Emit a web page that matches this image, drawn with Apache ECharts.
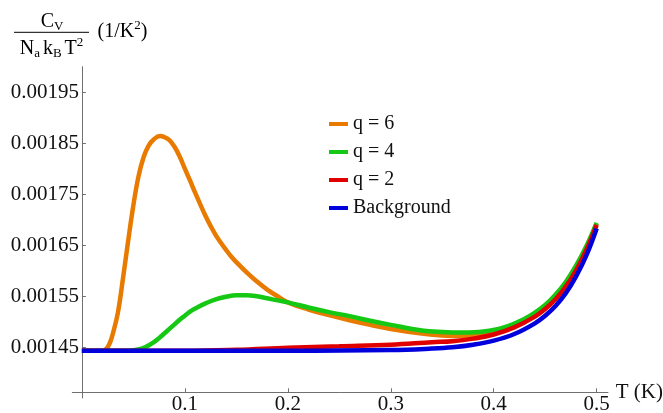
<!DOCTYPE html>
<html>
<head>
<meta charset="utf-8">
<script src="https://cdn.jsdelivr.net/npm/echarts@6/dist/echarts.min.js"></script>
<style>
html,body{margin:0;padding:0;background:#fff;}
#chart{width:663px;height:413px;}
</style>
</head>
<body>
<div id="chart"></div>
<script>
// ---- data ----
const seriesNames = ['q = 6', 'q = 4', 'q = 2', 'Background'];
const seriesColors = ['#E87A00', '#14C814', '#E00000', '#0000DC'];

const T_q6 = [0, 0.02, 0.0225, 0.025, 0.0275, 0.03, 0.035, 0.04, 0.045, 0.05, 0.055, 0.06, 0.065, 0.07, 0.076, 0.08, 0.085, 0.09, 0.095, 0.10, 0.105, 0.11, 0.115, 0.12, 0.125, 0.13, 0.135, 0.14, 0.145, 0.15, 0.16, 0.17, 0.18, 0.19, 0.20, 0.22, 0.24, 0.26, 0.28, 0.30, 0.33, 0.35, 0.37, 0.39, 0.41, 0.43, 0.44, 0.45, 0.46, 0.47, 0.48, 0.49, 0.50];
const C_q6 = [0.001443, 0.001443, 0.001445, 0.00145, 0.00146, 0.001476, 0.001518, 0.001586, 0.001659, 0.001728, 0.001785, 0.001823, 0.001846, 0.001858, 0.001864, 0.001862, 0.001856, 0.001843, 0.001824, 0.0018, 0.001777, 0.001753, 0.00173, 0.001708, 0.001688, 0.00167, 0.001655, 0.001641, 0.001628, 0.001617, 0.001597, 0.001579, 0.001563, 0.00155, 0.001538, 0.001524, 0.001513, 0.001503, 0.001494, 0.001486, 0.001477, 0.001473, 0.001472, 0.001475, 0.001485, 0.001504, 0.001517, 0.001532, 0.001552, 0.001577, 0.001609, 0.001647, 0.001693];

const T_q4 = [0, 0.04, 0.05, 0.055, 0.06, 0.065, 0.07, 0.075, 0.08, 0.085, 0.09, 0.095, 0.10, 0.105, 0.11, 0.12, 0.13, 0.14, 0.15, 0.16, 0.17, 0.18, 0.19, 0.20, 0.22, 0.24, 0.26, 0.28, 0.30, 0.33, 0.35, 0.37, 0.39, 0.41, 0.43, 0.44, 0.45, 0.46, 0.47, 0.48, 0.49, 0.50];
const C_q4 = [0.001443, 0.001443, 0.001444, 0.001446, 0.001449, 0.001454, 0.00146, 0.001468, 0.001477, 0.001486, 0.001495, 0.001504, 0.001512, 0.00152, 0.001526, 0.001536, 0.001544, 0.001549, 0.001552, 0.001552, 0.00155, 0.001546, 0.001542, 0.001538, 0.001528, 0.001519, 0.001511, 0.001502, 0.001494, 0.001483, 0.00148, 0.001479, 0.001481, 0.001489, 0.001506, 0.001518, 0.001533, 0.001553, 0.001578, 0.00161, 0.001648, 0.001694];

const T_q2 = [0, 0.10, 0.15, 0.20, 0.25, 0.30, 0.34, 0.36, 0.38, 0.40, 0.42, 0.44, 0.45, 0.46, 0.47, 0.48, 0.49, 0.50];
const C_q2 = [0.001443, 0.001443, 0.001445, 0.001449, 0.001452, 0.001455, 0.00146, 0.001462, 0.001467, 0.001475, 0.001489, 0.00151, 0.001525, 0.001544, 0.001569, 0.001601, 0.001641, 0.00169];

const T_bg = [0, 0.10, 0.20, 0.30, 0.34, 0.36, 0.38, 0.40, 0.42, 0.44, 0.45, 0.46, 0.47, 0.48, 0.49, 0.50];
const C_bg = [0.001443, 0.001443, 0.001443, 0.0014445, 0.0014474, 0.00145, 0.001455, 0.001463, 0.001476, 0.001497, 0.001512, 0.001531, 0.001556, 0.001589, 0.00163, 0.001683];

const xTicks = [0.1, 0.2, 0.3, 0.4, 0.5];
const yTicks = [0.00145, 0.00155, 0.00165, 0.00175, 0.00185, 0.00195];

// ---- chart ----
const FONT = '"Liberation Serif", serif';
const TICKFS = 21;
const AXISCOL = '#707070';
const TXT = '#111';
const pairs = (t, c) => t.map((v, i) => [v, c[i]]);
const seriesData = [pairs(T_q6, C_q6), pairs(T_q4, C_q4), pairs(T_q2, C_q2), pairs(T_bg, C_bg)];

const chart = echarts.init(document.getElementById('chart'), null, {renderer: 'canvas'});

const mainRich = {
  m: {fontSize: 20, fontFamily: FONT, lineHeight: 24, fill: '#000'},
  s: {fontSize: 13, fontFamily: FONT, lineHeight: 17.3, verticalAlign: 'bottom', fill: '#000'},
  p: {fontSize: 13, fontFamily: FONT, lineHeight: 15.3, verticalAlign: 'top', fill: '#000'},
  sp: {fontSize: 12, fontFamily: FONT, lineHeight: 24, fill: '#000'}
};

chart.setOption({
  animation: false,
  backgroundColor: '#fff',
  textStyle: {fontFamily: FONT, fontSize: TICKFS, color: TXT},
  grid: {left: 72.3, right: 55, top: 66.7, bottom: 15, containLabel: false, outerBoundsMode: 'none'},
  legend: {
    orient: 'vertical',
    left: 329,
    top: 114,
    padding: 0,
    itemWidth: 19,
    itemHeight: 4,
    itemGap: 8,
    icon: 'rect',
    data: seriesNames,
    textStyle: {fontFamily: FONT, fontSize: 20, color: TXT, lineHeight: 20}
  },
  xAxis: {
    type: 'value',
    min: -0.0093,
    max: 0.511,
    offset: -5.7,
    name: 'T (K)',
    nameLocation: 'end',
    nameGap: 7,
    nameTextStyle: {fontFamily: FONT, fontSize: TICKFS, color: TXT},
    axisLine: {show: true, onZero: false, lineStyle: {color: AXISCOL, width: 1}},
    axisTick: {show: true, inside: true, length: 4, customValues: xTicks, lineStyle: {color: AXISCOL}},
    axisLabel: {customValues: xTicks, formatter: v => v.toFixed(1), margin: 2, fontFamily: FONT, fontSize: TICKFS, color: TXT},
    splitLine: {show: false}
  },
  yAxis: {
    type: 'value',
    min: 0.0013506,
    max: 0.002,
    offset: -9.6,
    axisLine: {show: true, onZero: false, lineStyle: {color: AXISCOL, width: 1}},
    axisTick: {show: true, inside: true, length: 4, customValues: yTicks, lineStyle: {color: AXISCOL}},
    axisLabel: {customValues: yTicks, formatter: v => v.toFixed(5), margin: 3, fontFamily: FONT, fontSize: TICKFS, color: TXT},
    splitLine: {show: false}
  },
  series: seriesNames.map((name, i) => ({
    name: name,
    type: 'line',
    data: seriesData[i],
    smooth: 0.4,
    showSymbol: false,
    symbol: 'none',
    color: seriesColors[i],
    lineStyle: {color: seriesColors[i], width: 4.5},
    z: 2 + i
  })),
  graphic: [
    {type: 'text', x: 52, y: 21.5, style: {text: '{m|C}{s|V}', rich: mainRich, align: 'center', verticalAlign: 'middle'}},
    {type: 'line', shape: {x1: 14, y1: 32.3, x2: 89, y2: 32.3}, style: {stroke: '#000', lineWidth: 1}},
    {type: 'text', x: 51.5, y: 48.3, style: {text: '{m|N}{s|a}{sp| }{m|k}{s|B}{sp| }{m|T}{p|2}', rich: mainRich, align: 'center', verticalAlign: 'middle'}},
    {type: 'text', x: 97.5, y: 31.3, style: {text: '{m|(1/K}{p|2}{m|)}', rich: mainRich, align: 'left', verticalAlign: 'middle'}}
  ]
});
</script>
</body>
</html>
